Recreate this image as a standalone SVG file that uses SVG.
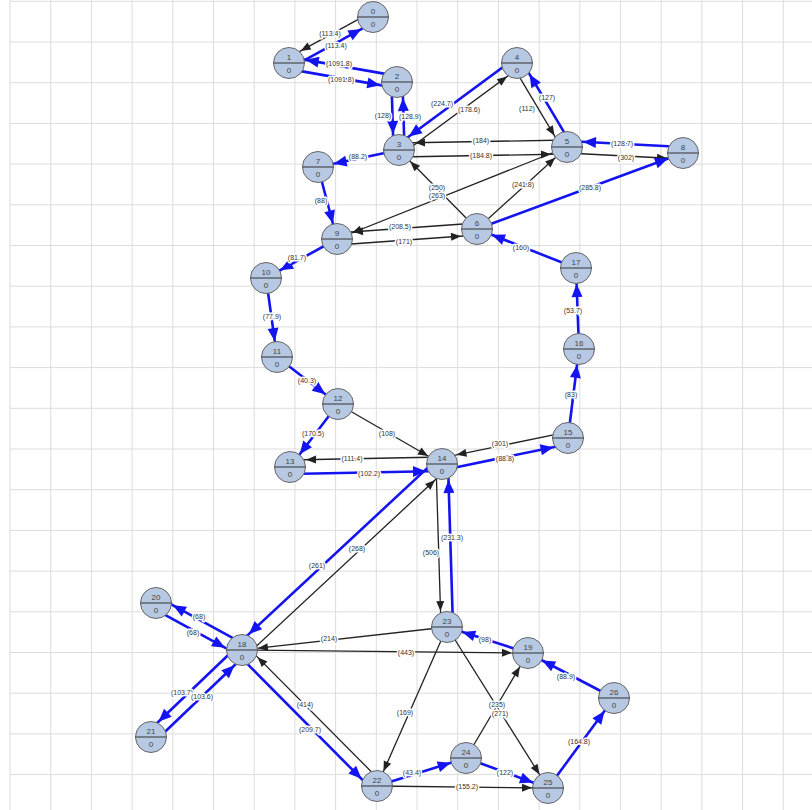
<svg xmlns="http://www.w3.org/2000/svg" width="812" height="810" viewBox="0 0 812 810">
<defs>
<style>
.grid line{stroke:#dcdcdc;stroke-width:1}
.k{stroke:#222;stroke-width:1.3;fill:none;marker-end:url(#ak)}
.b{stroke:#1414f0;stroke-width:2.6;fill:none;marker-end:url(#ab)}
.lbl{font-family:"Liberation Sans",Arial,sans-serif;font-size:7px;fill:#333;text-anchor:middle;stroke:#fff;stroke-width:3;paint-order:stroke;stroke-linejoin:round}
.node circle{fill:#b7c8e2;stroke:#666;stroke-width:1}
.node line{stroke:#333;stroke-width:1}
.node text{font-family:"Liberation Sans",Arial,sans-serif;font-size:8px;fill:#444;text-anchor:middle}
</style>
<marker id="ak" markerUnits="userSpaceOnUse" markerWidth="10" markerHeight="8" refX="26" refY="4" orient="auto" overflow="visible"><path d="M0,0 L10,4 L0,8 z" fill="#222"/></marker>
<marker id="ab" markerUnits="userSpaceOnUse" markerWidth="13" markerHeight="11" refX="29" refY="5.5" orient="auto" overflow="visible"><path d="M0,0 L13,5.5 L0,11 z" fill="#1414f0"/></marker>
</defs>
<rect width="812" height="810" fill="#fff"/>
<g class="grid">
<line x1="10" y1="0" x2="10" y2="810"/><line x1="50.7" y1="0" x2="50.7" y2="810"/><line x1="91.4" y1="0" x2="91.4" y2="810"/><line x1="132.1" y1="0" x2="132.1" y2="810"/><line x1="172.8" y1="0" x2="172.8" y2="810"/><line x1="213.5" y1="0" x2="213.5" y2="810"/><line x1="254.2" y1="0" x2="254.2" y2="810"/><line x1="294.9" y1="0" x2="294.9" y2="810"/><line x1="335.6" y1="0" x2="335.6" y2="810"/><line x1="376.3" y1="0" x2="376.3" y2="810"/><line x1="417" y1="0" x2="417" y2="810"/><line x1="457.7" y1="0" x2="457.7" y2="810"/><line x1="498.4" y1="0" x2="498.4" y2="810"/><line x1="539.1" y1="0" x2="539.1" y2="810"/><line x1="579.8" y1="0" x2="579.8" y2="810"/><line x1="620.5" y1="0" x2="620.5" y2="810"/><line x1="661.2" y1="0" x2="661.2" y2="810"/><line x1="701.9" y1="0" x2="701.9" y2="810"/><line x1="742.6" y1="0" x2="742.6" y2="810"/><line x1="783.3" y1="0" x2="783.3" y2="810"/>
<line x1="10" y1="1.3" x2="812" y2="1.3"/><line x1="10" y1="42" x2="812" y2="42"/><line x1="10" y1="82.7" x2="812" y2="82.7"/><line x1="10" y1="123.4" x2="812" y2="123.4"/><line x1="10" y1="164.1" x2="812" y2="164.1"/><line x1="10" y1="204.8" x2="812" y2="204.8"/><line x1="10" y1="245.5" x2="812" y2="245.5"/><line x1="10" y1="286.2" x2="812" y2="286.2"/><line x1="10" y1="326.9" x2="812" y2="326.9"/><line x1="10" y1="367.6" x2="812" y2="367.6"/><line x1="10" y1="408.3" x2="812" y2="408.3"/><line x1="10" y1="449" x2="812" y2="449"/><line x1="10" y1="489.7" x2="812" y2="489.7"/><line x1="10" y1="530.4" x2="812" y2="530.4"/><line x1="10" y1="571.1" x2="812" y2="571.1"/><line x1="10" y1="611.8" x2="812" y2="611.8"/><line x1="10" y1="652.5" x2="812" y2="652.5"/><line x1="10" y1="693.2" x2="812" y2="693.2"/><line x1="10" y1="733.9" x2="812" y2="733.9"/><line x1="10" y1="774.6" x2="812" y2="774.6"/>
</g>
<g id="connectors">
<line class="k" x1="370.6" y1="12.6" x2="286.6" y2="58.6"/>
<line class="b" x1="291.4" y1="67.4" x2="375.4" y2="21.4"/>
<line class="b" x1="398" y1="76.1" x2="290" y2="57.1"/>
<line class="b" x1="288" y1="68.9" x2="396" y2="87.9"/>
<line class="b" x1="391.5" y1="82" x2="393.5" y2="150"/>
<line class="b" x1="404.5" y1="150" x2="402.5" y2="82"/>
<line class="b" x1="514" y1="59" x2="396" y2="146"/>
<line class="k" x1="402" y1="154" x2="520" y2="67"/>
<line class="k" x1="512.7" y1="65.6" x2="562.7" y2="149.6"/>
<line class="b" x1="571.3" y1="144.4" x2="521.3" y2="60.4"/>
<line class="k" x1="567" y1="140" x2="399" y2="143"/>
<line class="k" x1="399" y1="157" x2="567" y2="154"/>
<line class="b" x1="683" y1="147" x2="567" y2="141"/>
<line class="k" x1="567" y1="153" x2="683" y2="159"/>
<line class="b" x1="477" y1="229" x2="683" y2="153"/>
<line class="k" x1="477" y1="229" x2="399" y2="150"/>
<line class="k" x1="567" y1="147" x2="337" y2="239"/>
<line class="k" x1="477" y1="229" x2="567" y2="147"/>
<line class="b" x1="399" y1="150" x2="318" y2="167"/>
<line class="b" x1="318" y1="167" x2="337" y2="239"/>
<line class="k" x1="477" y1="223" x2="337" y2="233"/>
<line class="k" x1="337" y1="245" x2="477" y2="235"/>
<line class="b" x1="576" y1="268" x2="477" y2="229"/>
<line class="b" x1="337" y1="239" x2="266" y2="278"/>
<line class="b" x1="266" y1="278" x2="277" y2="357"/>
<line class="b" x1="277" y1="357" x2="338" y2="404"/>
<line class="b" x1="338" y1="404" x2="290" y2="467"/>
<line class="k" x1="338" y1="404" x2="442" y2="464"/>
<line class="k" x1="442" y1="457" x2="290" y2="460"/>
<line class="b" x1="290" y1="474" x2="442" y2="471"/>
<line class="k" x1="566.8" y1="432.1" x2="440.8" y2="458.1"/>
<line class="b" x1="443.2" y1="469.9" x2="569.2" y2="443.9"/>
<line class="b" x1="568" y1="438" x2="579" y2="349"/>
<line class="b" x1="579" y1="349" x2="576" y2="268"/>
<line class="b" x1="437.2" y1="458.9" x2="237.2" y2="644.9"/>
<line class="k" x1="246.8" y1="655.1" x2="446.8" y2="469.1"/>
<line class="k" x1="436" y1="464" x2="441" y2="627"/>
<line class="b" x1="453" y1="627" x2="448" y2="464"/>
<line class="k" x1="447" y1="627" x2="242" y2="650"/>
<line class="k" x1="242" y1="650" x2="528" y2="653"/>
<line class="b" x1="528" y1="653" x2="447" y2="627"/>
<line class="b" x1="614" y1="698" x2="528" y2="653"/>
<line class="b" x1="244.9" y1="644.7" x2="158.9" y2="597.7"/>
<line class="b" x1="153.1" y1="608.3" x2="239.1" y2="655.3"/>
<line class="b" x1="237.9" y1="645.7" x2="146.9" y2="732.7"/>
<line class="b" x1="155.1" y1="741.3" x2="246.1" y2="654.3"/>
<line class="k" x1="381.3" y1="781.8" x2="246.3" y2="645.8"/>
<line class="b" x1="237.7" y1="654.2" x2="372.7" y2="790.2"/>
<line class="k" x1="447" y1="627" x2="377" y2="786"/>
<line class="k" x1="447" y1="627" x2="548" y2="788"/>
<line class="k" x1="466" y1="758" x2="528" y2="653"/>
<line class="b" x1="377" y1="786" x2="466" y2="758"/>
<line class="b" x1="466" y1="758" x2="548" y2="788"/>
<line class="k" x1="377" y1="786" x2="548" y2="788"/>
<line class="b" x1="548" y1="788" x2="614" y2="698"/>
</g>
<g id="labels">
<text class="lbl" x="330" y="36">(113.4)</text>
<text class="lbl" x="336" y="48">(113.4)</text>
<text class="lbl" x="339" y="66">(1091.8)</text>
<text class="lbl" x="341" y="82">(1091.8)</text>
<text class="lbl" x="383" y="118">(128)</text>
<text class="lbl" x="410" y="119">(128.9)</text>
<text class="lbl" x="442" y="106">(224.7)</text>
<text class="lbl" x="469" y="112">(178.6)</text>
<text class="lbl" x="527" y="111">(112)</text>
<text class="lbl" x="547" y="100">(127)</text>
<text class="lbl" x="481" y="143">(184)</text>
<text class="lbl" x="481" y="158">(184.8)</text>
<text class="lbl" x="622" y="146">(128.7)</text>
<text class="lbl" x="626" y="160">(302)</text>
<text class="lbl" x="590" y="190">(285.8)</text>
<text class="lbl" x="437" y="190">(250)</text>
<text class="lbl" x="437" y="198">(263)</text>
<text class="lbl" x="523" y="187">(241.8)</text>
<text class="lbl" x="358" y="159">(88.2)</text>
<text class="lbl" x="321" y="203">(88)</text>
<text class="lbl" x="400" y="229">(208.5)</text>
<text class="lbl" x="404" y="244">(171)</text>
<text class="lbl" x="521" y="250">(160)</text>
<text class="lbl" x="297" y="260">(81.7)</text>
<text class="lbl" x="272" y="319">(77.9)</text>
<text class="lbl" x="307" y="383">(40.3)</text>
<text class="lbl" x="313" y="436">(170.5)</text>
<text class="lbl" x="387" y="436">(108)</text>
<text class="lbl" x="352" y="461">(111.4)</text>
<text class="lbl" x="369" y="476">(102.2)</text>
<text class="lbl" x="500" y="446">(301)</text>
<text class="lbl" x="505" y="461">(88.8)</text>
<text class="lbl" x="571" y="397">(83)</text>
<text class="lbl" x="573" y="313">(53.7)</text>
<text class="lbl" x="317" y="568">(261)</text>
<text class="lbl" x="357" y="551">(268)</text>
<text class="lbl" x="431" y="555">(506)</text>
<text class="lbl" x="452" y="540">(231.3)</text>
<text class="lbl" x="329" y="641">(214)</text>
<text class="lbl" x="406" y="655">(443)</text>
<text class="lbl" x="485" y="642">(98)</text>
<text class="lbl" x="566" y="679">(88.9)</text>
<text class="lbl" x="199" y="619">(68)</text>
<text class="lbl" x="193" y="635">(68)</text>
<text class="lbl" x="182" y="695">(103.7)</text>
<text class="lbl" x="202" y="699">(103.6)</text>
<text class="lbl" x="305" y="707">(414)</text>
<text class="lbl" x="310" y="732">(209.7)</text>
<text class="lbl" x="405" y="715">(169)</text>
<text class="lbl" x="497" y="707">(235)</text>
<text class="lbl" x="500" y="716">(271)</text>
<text class="lbl" x="412" y="775">(43.4)</text>
<text class="lbl" x="505" y="775">(122)</text>
<text class="lbl" x="467" y="789">(155.2)</text>
<text class="lbl" x="579" y="744">(164.8)</text>
</g>
<g id="n0" class="node"><circle cx="373" cy="17" r="15.5"/><line x1="357.5" y1="17" x2="388.5" y2="17"/><text x="373" y="14">0</text><text x="373" y="27">0</text></g>
<g id="n1" class="node"><circle cx="289" cy="63" r="15.5"/><line x1="273.5" y1="63" x2="304.5" y2="63"/><text x="289" y="60">1</text><text x="289" y="73">0</text></g>
<g id="n2" class="node"><circle cx="397" cy="82" r="15.5"/><line x1="381.5" y1="82" x2="412.5" y2="82"/><text x="397" y="79">2</text><text x="397" y="92">0</text></g>
<g id="n3" class="node"><circle cx="399" cy="150" r="15.5"/><line x1="383.5" y1="150" x2="414.5" y2="150"/><text x="399" y="147">3</text><text x="399" y="160">0</text></g>
<g id="n4" class="node"><circle cx="517" cy="63" r="15.5"/><line x1="501.5" y1="63" x2="532.5" y2="63"/><text x="517" y="60">4</text><text x="517" y="73">0</text></g>
<g id="n5" class="node"><circle cx="567" cy="147" r="15.5"/><line x1="551.5" y1="147" x2="582.5" y2="147"/><text x="567" y="144">5</text><text x="567" y="157">0</text></g>
<g id="n6" class="node"><circle cx="477" cy="229" r="15.5"/><line x1="461.5" y1="229" x2="492.5" y2="229"/><text x="477" y="226">6</text><text x="477" y="239">0</text></g>
<g id="n7" class="node"><circle cx="318" cy="167" r="15.5"/><line x1="302.5" y1="167" x2="333.5" y2="167"/><text x="318" y="164">7</text><text x="318" y="177">0</text></g>
<g id="n8" class="node"><circle cx="683" cy="153" r="15.5"/><line x1="667.5" y1="153" x2="698.5" y2="153"/><text x="683" y="150">8</text><text x="683" y="163">0</text></g>
<g id="n9" class="node"><circle cx="337" cy="239" r="15.5"/><line x1="321.5" y1="239" x2="352.5" y2="239"/><text x="337" y="236">9</text><text x="337" y="249">0</text></g>
<g id="n10" class="node"><circle cx="266" cy="278" r="15.5"/><line x1="250.5" y1="278" x2="281.5" y2="278"/><text x="266" y="275">10</text><text x="266" y="288">0</text></g>
<g id="n11" class="node"><circle cx="277" cy="357" r="15.5"/><line x1="261.5" y1="357" x2="292.5" y2="357"/><text x="277" y="354">11</text><text x="277" y="367">0</text></g>
<g id="n12" class="node"><circle cx="338" cy="404" r="15.5"/><line x1="322.5" y1="404" x2="353.5" y2="404"/><text x="338" y="401">12</text><text x="338" y="414">0</text></g>
<g id="n13" class="node"><circle cx="290" cy="467" r="15.5"/><line x1="274.5" y1="467" x2="305.5" y2="467"/><text x="290" y="464">13</text><text x="290" y="477">0</text></g>
<g id="n14" class="node"><circle cx="442" cy="464" r="15.5"/><line x1="426.5" y1="464" x2="457.5" y2="464"/><text x="442" y="461">14</text><text x="442" y="474">0</text></g>
<g id="n15" class="node"><circle cx="568" cy="438" r="15.5"/><line x1="552.5" y1="438" x2="583.5" y2="438"/><text x="568" y="435">15</text><text x="568" y="448">0</text></g>
<g id="n16" class="node"><circle cx="579" cy="349" r="15.5"/><line x1="563.5" y1="349" x2="594.5" y2="349"/><text x="579" y="346">16</text><text x="579" y="359">0</text></g>
<g id="n17" class="node"><circle cx="576" cy="268" r="15.5"/><line x1="560.5" y1="268" x2="591.5" y2="268"/><text x="576" y="265">17</text><text x="576" y="278">0</text></g>
<g id="n18" class="node"><circle cx="242" cy="650" r="15.5"/><line x1="226.5" y1="650" x2="257.5" y2="650"/><text x="242" y="647">18</text><text x="242" y="660">0</text></g>
<g id="n19" class="node"><circle cx="528" cy="653" r="15.5"/><line x1="512.5" y1="653" x2="543.5" y2="653"/><text x="528" y="650">19</text><text x="528" y="663">0</text></g>
<g id="n20" class="node"><circle cx="156" cy="603" r="15.5"/><line x1="140.5" y1="603" x2="171.5" y2="603"/><text x="156" y="600">20</text><text x="156" y="613">0</text></g>
<g id="n21" class="node"><circle cx="151" cy="737" r="15.5"/><line x1="135.5" y1="737" x2="166.5" y2="737"/><text x="151" y="734">21</text><text x="151" y="747">0</text></g>
<g id="n22" class="node"><circle cx="377" cy="786" r="15.5"/><line x1="361.5" y1="786" x2="392.5" y2="786"/><text x="377" y="783">22</text><text x="377" y="796">0</text></g>
<g id="n23" class="node"><circle cx="447" cy="627" r="15.5"/><line x1="431.5" y1="627" x2="462.5" y2="627"/><text x="447" y="624">23</text><text x="447" y="637">0</text></g>
<g id="n24" class="node"><circle cx="466" cy="758" r="15.5"/><line x1="450.5" y1="758" x2="481.5" y2="758"/><text x="466" y="755">24</text><text x="466" y="768">0</text></g>
<g id="n25" class="node"><circle cx="548" cy="788" r="15.5"/><line x1="532.5" y1="788" x2="563.5" y2="788"/><text x="548" y="785">25</text><text x="548" y="798">0</text></g>
<g id="n26" class="node"><circle cx="614" cy="698" r="15.5"/><line x1="598.5" y1="698" x2="629.5" y2="698"/><text x="614" y="695">26</text><text x="614" y="708">0</text></g>
</svg>
